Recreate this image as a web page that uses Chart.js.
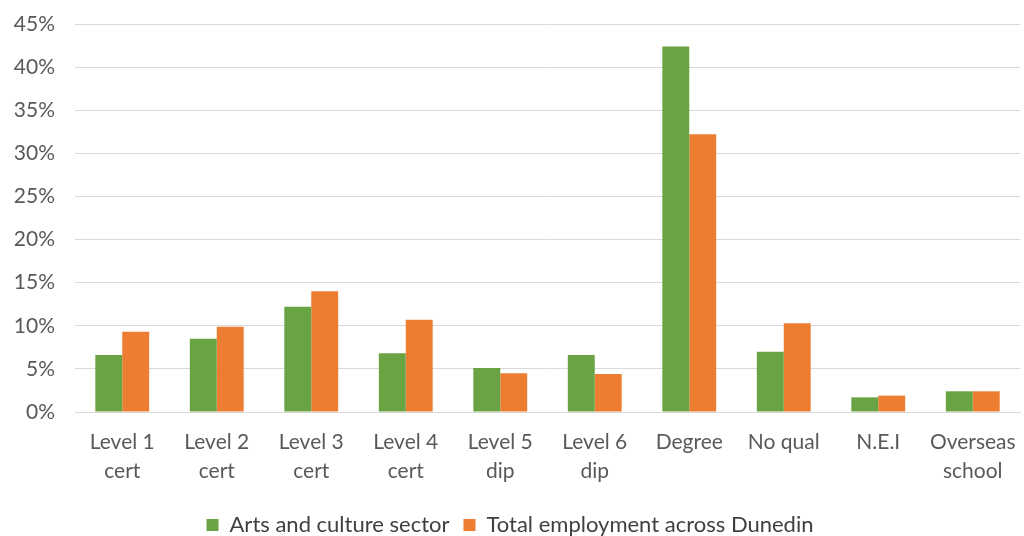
<!DOCTYPE html>
<html>
<head>
<meta charset="utf-8">
<script src="https://cdn.jsdelivr.net/npm/chart.js@4/dist/chart.umd.min.js"></script>
<style>
  html, body { margin: 0; padding: 0; background: #fff; }
  #wrap { width: 1024px; height: 536px; }
</style>
</head>
<body>
<div id="wrap"><canvas id="chart" width="1024" height="536"></canvas></div>
<script>
// categories and values (percent)
const categories = [
  ["Level 1", "cert"], ["Level 2", "cert"], ["Level 3", "cert"], ["Level 4", "cert"],
  ["Level 5", "dip"], ["Level 6", "dip"], "Degree", "No qual", "N.E.I", ["Overseas", "school"]
];
const artsCulture = [6.6, 8.5, 12.2, 6.8, 5.1, 6.6, 42.4, 7.0, 1.7, 2.4];
const totalDunedin = [9.3, 9.9, 14.0, 10.7, 4.5, 4.4, 32.2, 10.3, 1.9, 2.4];
const yTicks = [0, 5, 10, 15, 20, 25, 30, 35, 40, 45];

const family = "Lato, 'Liberation Sans', sans-serif";

let ctx = document.getElementById("chart").getContext("2d");

let chart = new Chart(ctx, {
  type: "bar",
  data: {
    labels: categories,
    datasets: [{
      label: "Arts and culture sector",
      backgroundColor: "#6aa343",
      data: artsCulture
    }, {
      label: "Total employment across Dunedin",
      backgroundColor: "#ed7d31",
      data: totalDunedin
    }]
  },
  options: {
    responsive: false,
    animation: false,
    layout: { padding: { left: 0, right: 4, top: 24, bottom: -10 } },
    datasets: { bar: { categoryPercentage: 0.57, barPercentage: 1.0 } },
    plugins: {
      tooltip: { enabled: false },
      legend: {
        position: "bottom",
        labels: {
          color: "#404040",
          font: { family: family, size: 22 },
          boxWidth: 12,
          boxHeight: 12,
          padding: 14
        }
      }
    },
    scales: {
      x: {
        afterFit: (scale) => { scale.height = 88; },
        grid: { display: false },
        border: { display: true, color: "#d9d9d9", width: 1 },
        ticks: {
          color: "#595959",
          font: { family: family, size: 21, lineHeight: 1.38 },
          padding: 8,
          maxRotation: 0,
          autoSkip: false
        }
      },
      y: {
        min: 0,
        max: 45,
        afterFit: (scale) => { scale.width = 75; scale.paddingTop = 0; },
        afterBuildTicks: (scale) => { scale.ticks = yTicks.map(v => ({ value: v })); },
        grid: { color: "#d9d9d9", lineWidth: 1, drawTicks: false },
        border: { display: false },
        ticks: {
          color: "#595959",
          font: { family: family, size: 21, lineHeight: 0.5 },
          padding: 20,
          callback: (v) => v + "%"
        }
      }
    }
  }
});
</script>
</body>
</html>
